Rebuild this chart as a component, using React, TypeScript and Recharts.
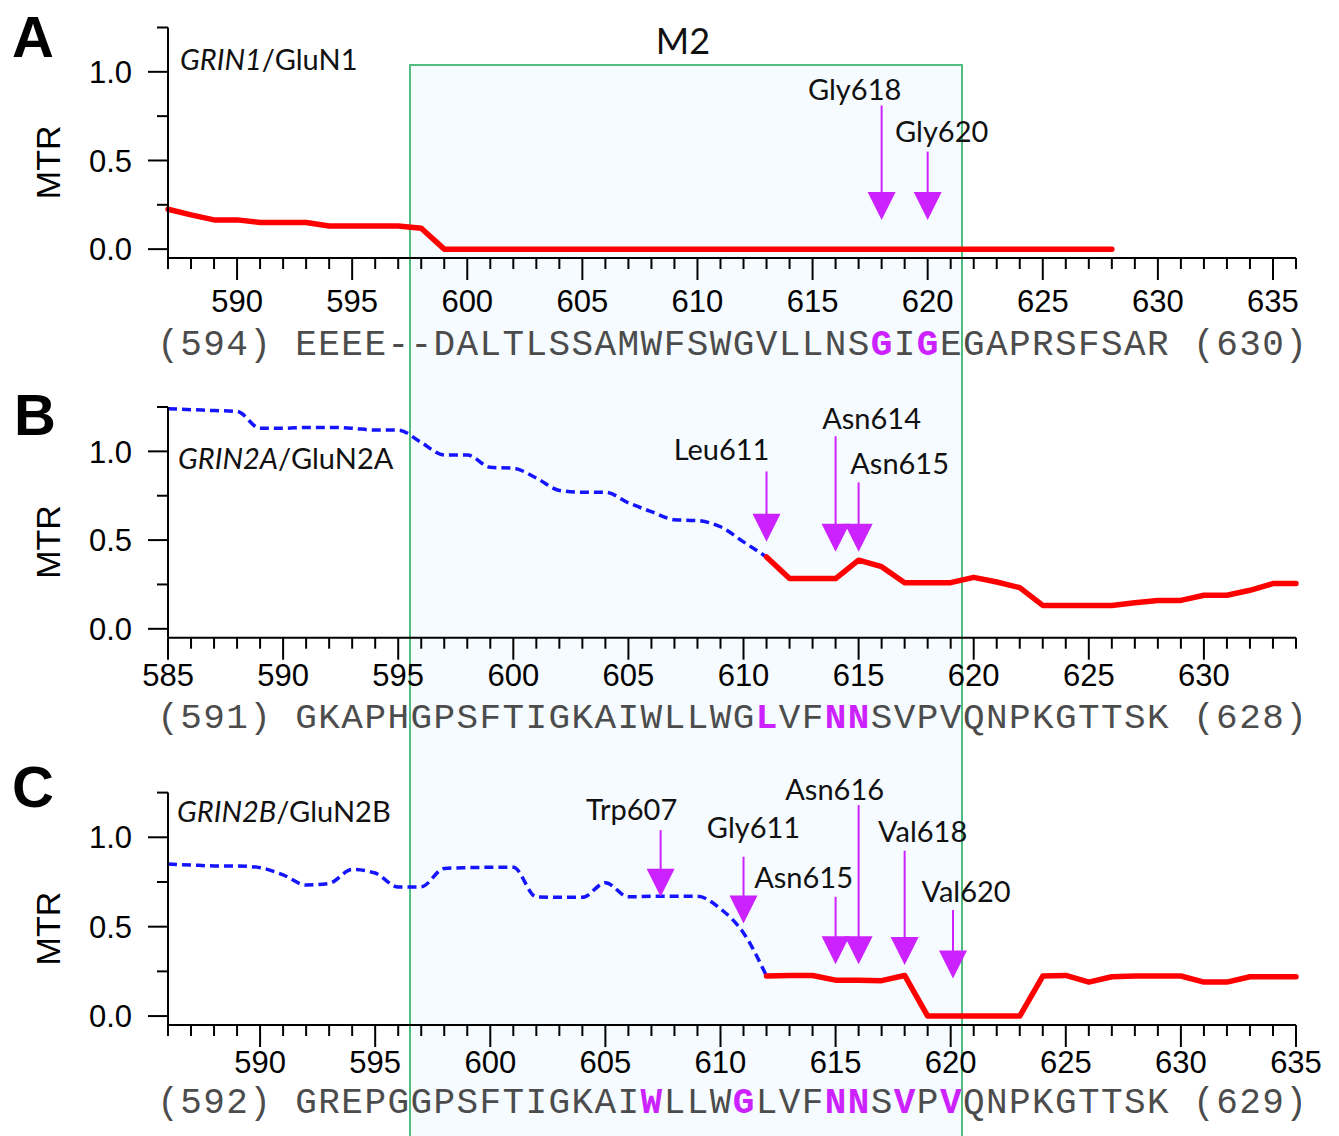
import { LineChart, Line, XAxis, YAxis, ReferenceLine } from 'recharts';

// residue ranges shown on each x axis
const A_RANGE = [587, 636];
const B_RANGE = [585, 634];
const C_RANGE = [586, 635];

const A_LABELS = [590, 595, 600, 605, 610, 615, 620, 625, 630, 635];
const B_LABELS = [585, 590, 595, 600, 605, 610, 615, 620, 625, 630];
const C_LABELS = [590, 595, 600, 605, 610, 615, 620, 625, 630, 635];

// one character per residue position, starting at the range start
const A_SEQ = '(594) EEEE--DALTLSSAMWFSWGVLLNSGIGEGAPRSFSAR (630)';
const B_SEQ = '(591) GKAPHGPSFTIGKAIWLLWGLVFNNSVPVQNPKGTTSK (628)';
const C_SEQ = '(592) GREPGGPSFTIGKAIWLLWGLVFNNSVPVQNPKGTTSK (629)';

const A_MARKED = [618, 620];
const B_MARKED = [611, 614, 615];
const C_MARKED = [607, 611, 615, 616, 618, 620];

// MTR values
const A_RED_START = 587;
const A_RED = [
  0.225, 0.193, 0.165, 0.165, 0.15, 0.15, 0.15, 0.13, 0.13, 0.13, 0.13, 0.118,
  0, 0, 0, 0, 0, 0, 0, 0, 0, 0, 0, 0, 0, 0, 0, 0, 0, 0, 0, 0, 0, 0, 0, 0, 0, 0, 0, 0, 0, 0,
];

const B_BLUE_START = 585;
const B_BLUE = [
  1.24, 1.235, 1.23, 1.225, 1.13, 1.13, 1.135, 1.135, 1.13, 1.12, 1.12, 1.05, 0.98, 0.98,
  0.91, 0.905, 0.85, 0.78, 0.77, 0.77, 0.71, 0.66, 0.615, 0.61, 0.575, 0.49, 0.405,
];
const B_RED_START = 611;
const B_RED = [
  0.405, 0.283, 0.283, 0.283, 0.387, 0.35, 0.26, 0.26, 0.26, 0.29, 0.264, 0.232,
  0.132, 0.132, 0.132, 0.132, 0.147, 0.16, 0.16, 0.189, 0.189, 0.217, 0.255, 0.255,
];

const C_BLUE_START = 586;
const C_BLUE = [
  0.85, 0.845, 0.84, 0.84, 0.83, 0.79, 0.733, 0.742, 0.82, 0.8, 0.722, 0.723, 0.826, 0.83,
  0.832, 0.832, 0.667, 0.664, 0.664, 0.746, 0.667, 0.67, 0.67, 0.67, 0.6, 0.465, 0.224,
];
const C_RED_START = 612;
const C_RED = [
  0.224, 0.227, 0.227, 0.201, 0.201, 0.198, 0.227, 0, 0, 0, 0, 0,
  0.224, 0.227, 0.19, 0.22, 0.224, 0.224, 0.224, 0.19, 0.19, 0.22, 0.22, 0.22,
];

const Y_TICKS = [0, 0.25, 0.5, 0.75, 1, 1.25];
const Y_LABELED = [0, 0.5, 1];

// arrows: residue, value at the top of the shaft, value at the tip
const A_ARROWS = [
  { name: 'Gly618', x: 618, top: 0.81, tip: 0.165 },
  { name: 'Gly620', x: 620, top: 0.55, tip: 0.165 },
];
const B_ARROWS = [
  { name: 'Leu611', x: 611, top: 0.887, tip: 0.49 },
  { name: 'Asn614', x: 614, top: 1.085, tip: 0.434 },
  { name: 'Asn615', x: 615, top: 0.825, tip: 0.434 },
];
const C_ARROWS = [
  { name: 'Trp607', x: 607.4, top: 1.04, tip: 0.667 },
  { name: 'Gly611', x: 611, top: 0.891, tip: 0.518 },
  { name: 'Asn615', x: 615, top: 0.667, tip: 0.29 },
  { name: 'Asn616', x: 616, top: 1.18, tip: 0.29 },
  { name: 'Val618', x: 618, top: 0.925, tip: 0.285 },
  { name: 'Val620', x: 620.1, top: 0.593, tip: 0.21 },
];

// label placement relative to arrow top (px)
const LABEL_SHIFT: Record<string, { dx: number; dy: number }> = {
  'A-Gly618': { dx: -27, dy: -6 },
  'A-Gly620': { dx: 14, dy: -10 },
  'B-Leu611': { dx: -45, dy: -11 },
  'B-Asn614': { dx: 36, dy: -7 },
  'B-Asn615': { dx: 41, dy: -8 },
  'C-Trp607': { dx: -29, dy: -10 },
  'C-Gly611': { dx: 10, dy: -19 },
  'C-Asn615': { dx: -32, dy: -9 },
  'C-Asn616': { dx: -24, dy: -5 },
  'C-Val618': { dx: 18, dy: -9 },
  'C-Val620': { dx: 13, dy: -8 },
};

const MAGENTA = '#cc22ff';
const SANS = '"Liberation Sans", Arial, sans-serif';
const CAL = 'Lato, "Open Sans", sans-serif';
const MONO = '"Liberation Mono", "DejaVu Sans Mono", monospace';
const HEAD_H = 28;
const HEAD_W = 14;

function buildRows(range: number[], blueStart: number, blue: number[], redStart: number, red: number[]) {
  const rows: any[] = [];
  for (let x = range[0]; x <= range[1]; x++) {
    const bi = x - blueStart;
    const ri = x - redStart;
    rows.push({
      x,
      blue: bi >= 0 && bi < blue.length ? blue[bi] : null,
      red: ri >= 0 && ri < red.length ? red[ri] : null,
    });
  }
  return rows;
}

function ResidueTick(props: any) {
  const { x, y, payload, range, seq, marked, labels, numDy, seqDy } = props;
  const v = Math.round(payload.value);
  const major = v % 5 === 0;
  const ch = seq[v - range[0]] || '';
  const hi = marked.includes(v);
  return (
    <g>
      <line x1={x} y1={y} x2={x} y2={y + (major ? 22 : 11)} stroke="#000" strokeWidth={2} />
      {labels.includes(v) && (
        <text x={x} y={y + numDy} textAnchor="middle" fontFamily={SANS} fontSize={31} fill="#000">
          {v}
        </text>
      )}
      {ch.trim() !== '' && (
        <text
          x={x}
          y={y + seqDy}
          textAnchor="middle"
          fontFamily={MONO}
          fontSize={36}
          fontWeight={hi ? 'bold' : 'normal'}
          fill={hi ? MAGENTA : '#4c4c4c'}
        >
          {ch}
        </text>
      )}
    </g>
  );
}

function MtrTick(props: any) {
  const { x, y, payload } = props;
  const v = payload.value;
  const major = Y_LABELED.includes(v);
  return (
    <g>
      <line x1={x - (major ? 20 : 11)} y1={y} x2={x} y2={y} stroke="#000" strokeWidth={2} />
      {major && (
        <text x={x - 36} y={y} dy="0.36em" textAnchor="end" fontFamily={SANS} fontSize={31} fill="#000">
          {v.toFixed(1)}
        </text>
      )}
    </g>
  );
}

function arrowShape(label: string, key: string) {
  return (p: any) => {
    const x = p.x1;
    const yTop = Math.min(p.y1, p.y2);
    const yTip = Math.max(p.y1, p.y2);
    const s = LABEL_SHIFT[key] || { dx: 0, dy: -8 };
    return (
      <g>
        <line x1={x} y1={yTop} x2={x} y2={yTip - HEAD_H + 1} stroke={MAGENTA} strokeWidth={2} />
        <polygon
          points={`${x - HEAD_W},${yTip - HEAD_H} ${x + HEAD_W},${yTip - HEAD_H} ${x},${yTip}`}
          fill={MAGENTA}
        />
        <text x={x + s.dx} y={yTop + s.dy} textAnchor="middle" fontFamily={CAL} fontSize={29} fill="#111">
          {label}
        </text>
      </g>
    );
  };
}

interface PanelCfg {
  id: string;
  top: number;
  mt: number;
  ph: number;
  range: number[];
  labels: number[];
  seq: string;
  marked: number[];
  rows: any[];
  arrows: { name: string; x: number; top: number; tip: number }[];
  numDy: number;
  seqDy: number;
  hasBlue: boolean;
}

function Panel({ cfg }: { cfg: PanelCfg }) {
  const ticks: number[] = [];
  for (let v = cfg.range[0]; v <= cfg.range[1]; v++) ticks.push(v);
  const xh = 110;
  return (
    <div style={{ position: 'absolute', left: 0, top: cfg.top }}>
      <LineChart
        width={1339}
        height={cfg.mt + cfg.ph + xh}
        data={cfg.rows}
        margin={{ top: cfg.mt, right: 43, bottom: 0, left: 0 }}
      >
        <XAxis
          type="number"
          dataKey="x"
          domain={cfg.range}
          ticks={ticks}
          interval={0}
          height={xh}
          tickLine={false}
          tickSize={0}
          tickMargin={0}
          axisLine={{ stroke: '#000', strokeWidth: 2 }}
          tick={(p: any) => (
            <ResidueTick
              {...p}
              range={cfg.range}
              seq={cfg.seq}
              marked={cfg.marked}
              labels={cfg.labels}
              numDy={cfg.numDy}
              seqDy={cfg.seqDy}
            />
          )}
        />
        <YAxis
          type="number"
          domain={[-0.05, 1.25]}
          allowDataOverflow
          ticks={Y_TICKS}
          interval={0}
          width={168}
          tickLine={false}
          tickSize={0}
          tickMargin={0}
          axisLine={{ stroke: '#000', strokeWidth: 2 }}
          tick={(p: any) => <MtrTick {...p} />}
          label={{
            content: (lp: any) => {
              const vb = lp.viewBox || { y: cfg.mt, height: cfg.ph };
              const cy = vb.y + vb.height * 0.585;
              return (
                <text
                  x={48}
                  y={cy}
                  transform={`rotate(-90 48 ${cy})`}
                  textAnchor="middle"
                  dy="0.36em"
                  fontFamily={SANS}
                  fontSize={34}
                  fill="#000"
                >
                  MTR
                </text>
              );
            },
          }}
        />
        {cfg.hasBlue && (
          <Line
            dataKey="blue"
            type="monotone"
            stroke="#1414ff"
            strokeWidth={3.5}
            strokeDasharray="9 5"
            dot={false}
            activeDot={false}
            isAnimationActive={false}
          />
        )}
        <Line
          dataKey="red"
          type="linear"
          stroke="#ff0000"
          strokeWidth={5.5}
          strokeLinecap="round"
          strokeLinejoin="round"
          dot={false}
          activeDot={false}
          isAnimationActive={false}
        />
        {cfg.arrows.map((a) => (
          <ReferenceLine
            key={a.name}
            segment={[
              { x: a.x, y: a.top },
              { x: a.x, y: a.tip },
            ]}
            ifOverflow="visible"
            shape={arrowShape(a.name, `${cfg.id}-${a.name}`)}
          />
        ))}
      </LineChart>
    </div>
  );
}

const PANELS: PanelCfg[] = [
  {
    id: 'A', top: 0, mt: 27.5, ph: 230.5, range: A_RANGE, labels: A_LABELS, seq: A_SEQ, marked: A_MARKED,
    rows: buildRows(A_RANGE, 0, [], A_RED_START, A_RED), arrows: A_ARROWS, numDy: 54, seqDy: 97, hasBlue: false,
  },
  {
    id: 'B', top: 380, mt: 27, ph: 230.7, range: B_RANGE, labels: B_LABELS, seq: B_SEQ, marked: B_MARKED,
    rows: buildRows(B_RANGE, B_BLUE_START, B_BLUE, B_RED_START, B_RED), arrows: B_ARROWS, numDy: 48, seqDy: 90, hasBlue: true,
  },
  {
    id: 'C', top: 765, mt: 27.6, ph: 232.4, range: C_RANGE, labels: C_LABELS, seq: C_SEQ, marked: C_MARKED,
    rows: buildRows(C_RANGE, C_BLUE_START, C_BLUE, C_RED_START, C_RED), arrows: C_ARROWS, numDy: 48, seqDy: 88, hasBlue: true,
  },
];

export default function App() {
  return (
    <div
      style={{
        position: 'absolute',
        left: 0,
        top: 0,
        width: 1339,
        height: 1136,
        overflow: 'hidden',
        background: '#fff',
      }}
    >
      {/* M2 segment band behind all three panels */}
      <svg width={1339} height={1136} style={{ position: 'absolute', left: 0, top: 0 }}>
        <rect x={410} y={65} width={552} height={1100} fill="#f5fbfe" stroke="#52bd80" strokeWidth={2} />
      </svg>
      {PANELS.map((p) => (
        <Panel key={p.id} cfg={p} />
      ))}
      <svg width={1339} height={1136} style={{ position: 'absolute', left: 0, top: 0, pointerEvents: 'none' }}>
        <text x={12} y={57} fontFamily={SANS} fontWeight="bold" fontSize={58}>A</text>
        <text x={14} y={435} fontFamily={SANS} fontWeight="bold" fontSize={58}>B</text>
        <text x={12} y={807} fontFamily={SANS} fontWeight="bold" fontSize={58}>C</text>
        <text x={683} y={54} textAnchor="middle" fontFamily={CAL} fontSize={36} fill="#111">M2</text>
        <text x={180} y={70} fontFamily={CAL} fontSize={29} fill="#111">
          <tspan fontStyle="italic">GRIN1</tspan>/GluN1
        </text>
        <text x={178} y={469} fontFamily={CAL} fontSize={29} fill="#111">
          <tspan fontStyle="italic">GRIN2A</tspan>/GluN2A
        </text>
        <text x={177} y={822} fontFamily={CAL} fontSize={29} fill="#111">
          <tspan fontStyle="italic">GRIN2B</tspan>/GluN2B
        </text>
      </svg>
    </div>
  );
}
